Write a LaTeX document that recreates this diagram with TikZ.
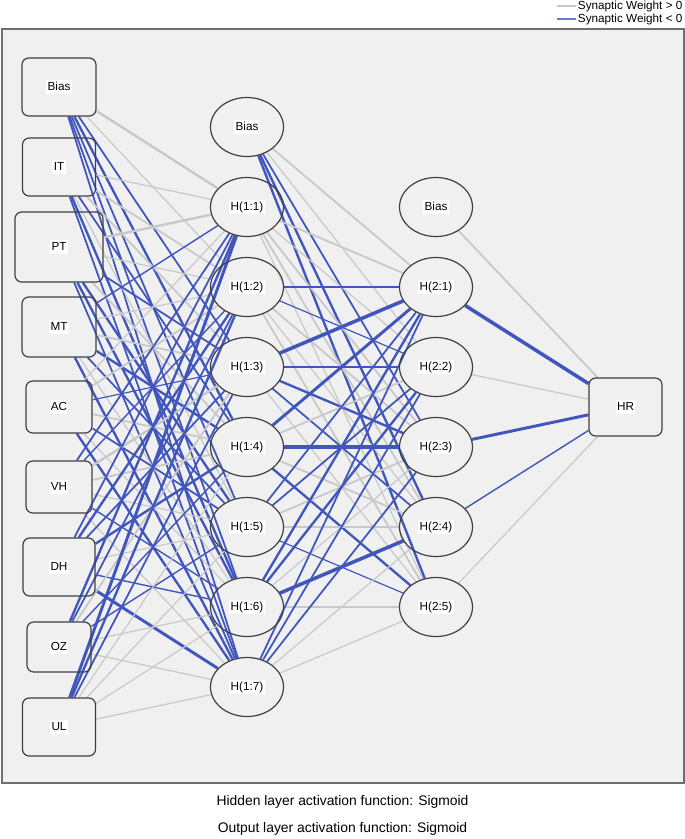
\documentclass[tikz,border=0pt]{standalone}
\usepackage{fontspec}
\setmainfont{Liberation Sans}
\usetikzlibrary{shapes.geometric}

\definecolor{fond}{RGB}{240,240,240}
\definecolor{cadre}{RGB}{110,110,110}
\definecolor{bord}{RGB}{64,64,64}
\definecolor{synpos}{RGB}{200,200,200}
\definecolor{synneg}{RGB}{64,86,188}

\pgfdeclarelayer{fondcadre}
\pgfdeclarelayer{synapses}
\pgfsetlayers{fondcadre,synapses,main}

\newcommand{\etiq}[1]{{\setlength{\fboxsep}{1pt}\colorbox{white}{\vphantom{H(g}#1}}}
\newcommand{\synapse}[3]{%
  \pgfmathsetmacro\ep{abs(#3)*0.88}%
  \ifdim #3pt<0pt \def\coul{synneg}\else\def\coul{synpos}\fi
  \draw[draw=\coul, line width=\ep pt] (#1) -- (#2);}

\begin{document}
\begin{tikzpicture}[x=0.75pt, y=-0.75pt,
    entree/.style={draw=bord, line width=0.9pt, rounded corners=5pt, inner sep=0pt,
      font=\fontsize{8.8}{10}\selectfont},
    cachee/.style={ellipse, draw=bord, line width=0.9pt, inner sep=0pt,
      minimum width=54.75pt, minimum height=44.25pt, font=\fontsize{8.8}{10}\selectfont},
    legende/.style={anchor=east, inner xsep=1pt, inner ysep=0pt, font=\fontsize{8.8}{10}\selectfont},
    activation/.style={font=\fontsize{10.4}{12}\selectfont}]
  \useasboundingbox (0,0) rectangle (685,839);

  % Cadre
  \begin{pgfonlayer}{fondcadre}
    \draw[draw=cadre, fill=fond, line width=0.8pt] (2,29) rectangle (684,783);
  \end{pgfonlayer}

  % Legende
  \node[legende] (legpos) at (684,6) {Synaptic Weight > 0};
  \node[legende] (legneg) at (684,19) {Synaptic Weight < 0};
  \draw[synpos, line width=1.5pt] (legpos.west) -- ++(-19,0);
  \draw[synneg!80!white, line width=1.5pt] (legneg.west) -- ++(-19,0);

  % Couche d'entree
  \foreach \nom/\y/\lx/\ly in {Bias/87/55.5/43.5, IT/167/54.75/43.5, PT/247/66/52.5,
      MT/327/55.5/45, AC/407/49.5/39, VH/487/49.5/39, DH/567/54/43.5,
      OZ/647/48/37.5, UL/727/54.75/43.5}
    \node[entree, minimum width=\lx pt, minimum height=\ly pt] (e\nom) at (59,\y) {\etiq{\nom}};

  % Couches cachees
  \node[cachee] (c1b) at (247,127) {\etiq{Bias}};
  \foreach \k in {1,...,7}
    \node[cachee] (c1n\k) at (247,{127+80*\k}) {\etiq{H(1:\k)}};
  \node[cachee] (c2b) at (436,207) {\etiq{Bias}};
  \foreach \k in {1,...,5}
    \node[cachee] (c2n\k) at (436,{207+80*\k}) {\etiq{H(2:\k)}};

  % Sortie
  \node[entree, minimum width=54.75pt, minimum height=43.5pt] (sHR) at (625.5,407) {\etiq{HR}};

  % Poids synaptiques (signe = couleur, valeur = epaisseur)
  \begin{pgfonlayer}{synapses}
    \foreach \src/\poids in {eBias/{2,1,-1.5,-2,-1.5,-1.5,-1.5},
        eIT/{1,1.5,1.5,-1.5,1,-2,-1.5},
        ePT/{2,1,-1.5,1.5,-2,-2,-1.5},
        eMT/{-1.2,1,1.5,-2,-1.5,1,-2},
        eAC/{1,1.5,-1,1.5,-1.5,1,-2},
        eVH/{-1.5,-1.2,2,1.5,1,-1.2,1},
        eDH/{-1.5,-2,-1.5,-2,1,-1.2,-2.5},
        eOZ/{-2,-1.5,1.5,-1.2,-1.2,1,1},
        eUL/{-2.5,-2,-1.5,1,1,1,1}}
      \foreach \w [count=\k] in \poids
        \synapse{\src}{c1n\k}{\w};

    \foreach \src/\poids in {c1b/{1.5,1,-1.5,-2,-2},
        c1n1/{1.5,1,1.5,1.5,1},
        c1n2/{-1.5,-1,1.5,1,1.5},
        c1n3/{-3,-2,-2,-1.5,1},
        c1n4/{-2.5,1.5,-3,1.5,-2},
        c1n5/{-1.5,-1.5,1.5,1,-1},
        c1n6/{-2,-2,1,-3,2},
        c1n7/{-1.5,-1.5,-1.5,1,1}}
      \foreach \w [count=\k] in \poids
        \synapse{\src}{c2n\k}{\w};

    \foreach \src/\w in {c2b/1.5, c2n1/-3, c2n2/1, c2n3/-2.5, c2n4/-1.2, c2n5/1}
      \synapse{\src}{sHR}{\w};
  \end{pgfonlayer}

  % Fonctions d'activation
  \node[activation] (actcachee) at (342.5,802) {Hidden layer activation function: Sigmoid};
  \node[activation] (actsortie) at (342.5,829) {Output layer activation function: Sigmoid};
\end{tikzpicture}
\end{document}
